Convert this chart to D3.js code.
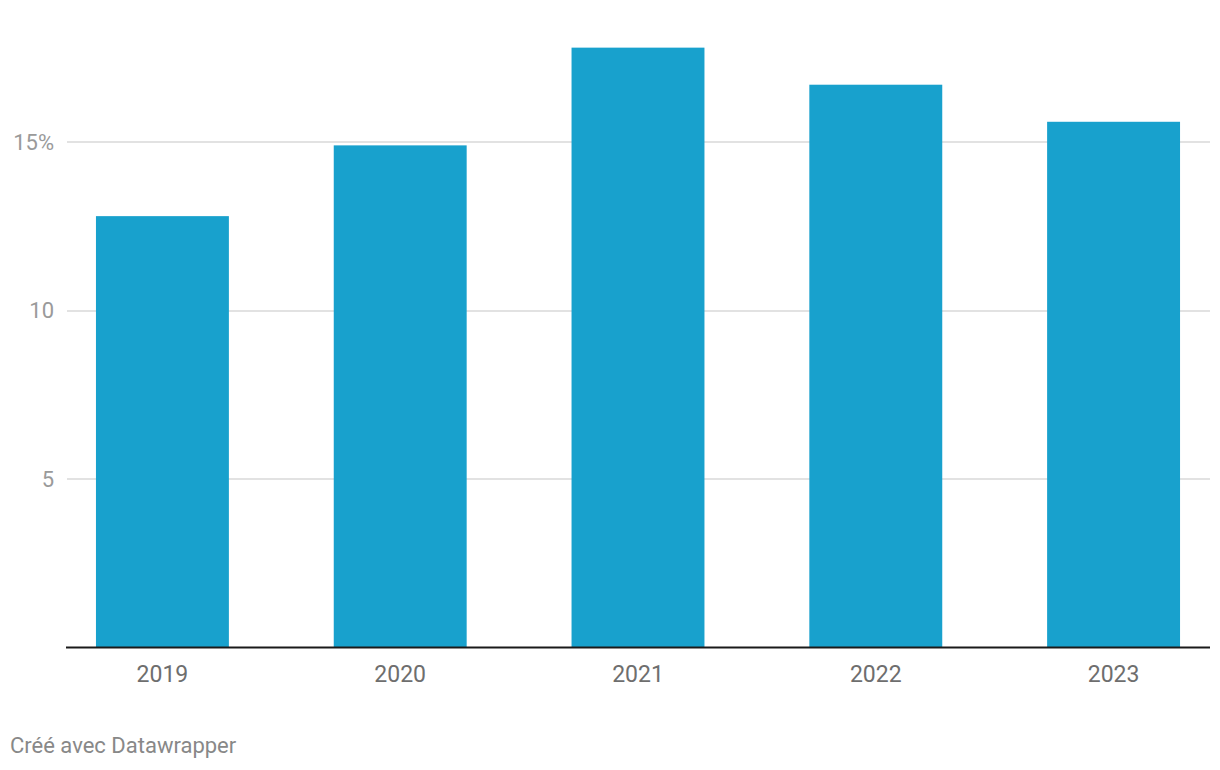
<!DOCTYPE html>
<html>
<head>
<meta charset="utf-8">
<script src="https://cdn.jsdelivr.net/npm/d3@7"></script>
<style>
  body { margin: 0; background: #fff; font-family: Roboto, "Noto Sans", sans-serif; }
</style>
</head>
<body>
<div id="chart"></div>
<script>
const years = ["2019", "2020", "2021", "2022", "2023"];
const values = [12.8, 14.9, 17.8, 16.7, 15.6];
const yTicks = [5, 10, 15];

const width = 1220, height = 770;
const svg = d3.select("#chart").append("svg")
    .attr("width", width)
    .attr("height", height);

// plot area
const plotLeft = 66, plotRight = 1210, plotBottom = 647.5;

const x = d3.scaleBand()
    .domain(years)
    .range([plotLeft, plotRight])
    .paddingInner(0.441)
    .paddingOuter(0.126);

const y = d3.scaleLinear()
    .domain([0, 15])
    .range([plotBottom, 142]);

// gridlines
svg.append("g")
    .selectAll("line")
    .data(yTicks)
    .enter().append("line")
    .attr("x1", plotLeft + 1)
    .attr("x2", plotRight)
    .attr("y1", d => Math.round(y(d)))
    .attr("y2", d => Math.round(y(d)))
    .attr("stroke", "#e2e2e2")
    .attr("stroke-width", 2);

// y labels
svg.append("g")
    .selectAll("text")
    .data(yTicks)
    .enter().append("text")
    .attr("x", 54)
    .attr("y", d => y(d))
    .attr("dy", "0.35em")
    .attr("text-anchor", "end")
    .attr("fill", "#9a9a9a")
    .style("font-size", "22px")
    .text(d => d === 15 ? d + "%" : d);

// bars
svg.append("g")
    .selectAll("rect")
    .data(values)
    .enter().append("rect")
    .attr("x", (d, i) => x(years[i]))
    .attr("width", x.bandwidth())
    .attr("y", d => y(d))
    .attr("height", d => plotBottom - y(d))
    .attr("fill", "#18a1cd");

// baseline
svg.append("line")
    .attr("x1", plotLeft)
    .attr("x2", plotRight)
    .attr("y1", plotBottom)
    .attr("y2", plotBottom)
    .attr("stroke", "#1a1a1a")
    .attr("stroke-width", 2);

// x labels
svg.append("g")
    .selectAll("text")
    .data(years)
    .enter().append("text")
    .attr("x", d => x(d) + x.bandwidth() / 2)
    .attr("y", 682)
    .attr("text-anchor", "middle")
    .attr("fill", "#6e6e6e")
    .style("font-size", "23px")
    .text(d => d);

// credit
svg.append("text")
    .attr("x", 10)
    .attr("y", 753)
    .attr("fill", "#888")
    .style("font-size", "22px")
    .text("Créé avec Datawrapper");
</script>
</body>
</html>
